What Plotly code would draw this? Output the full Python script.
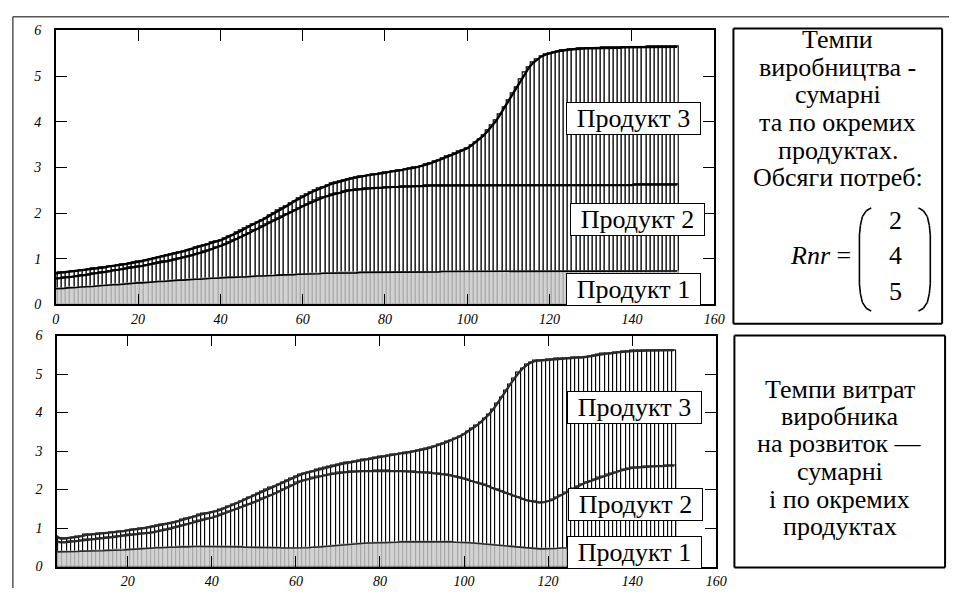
import plotly.graph_objects as go

W, H = 960, 596

# ---------------- data ----------------
# upper panel: production rates, cumulative levels per bar
x_top = list(range(0, 152))
p1_top = [0.34, 0.34, 0.35, 0.36, 0.36, 0.37, 0.38, 0.38, 0.39, 0.39, 0.40,
          0.41, 0.41, 0.42, 0.43, 0.43, 0.44, 0.45, 0.45, 0.46, 0.47,
          0.47, 0.48, 0.49, 0.49, 0.50, 0.50, 0.51, 0.52, 0.52, 0.53,
          0.53, 0.54, 0.54, 0.55, 0.55, 0.56, 0.56, 0.57, 0.57, 0.58,
          0.58, 0.59, 0.59, 0.60, 0.60, 0.60, 0.61, 0.61, 0.62, 0.62,
          0.62, 0.63, 0.63, 0.64, 0.64, 0.64, 0.65, 0.65, 0.66, 0.66,
          0.66, 0.67, 0.67, 0.67, 0.68, 0.68, 0.68, 0.68, 0.69, 0.69,
          0.69, 0.69, 0.69, 0.70, 0.70, 0.70, 0.70, 0.70, 0.70, 0.70,
          0.70, 0.70, 0.71, 0.71, 0.71, 0.71, 0.71, 0.71, 0.71, 0.71,
          0.71, 0.71, 0.71, 0.72, 0.72, 0.72, 0.72, 0.72, 0.72, 0.72,
          0.72, 0.72, 0.72, 0.72, 0.72, 0.73, 0.73, 0.73, 0.73, 0.73,
          0.73, 0.73, 0.73, 0.73, 0.73, 0.73, 0.73, 0.73, 0.73, 0.73,
          0.73, 0.73, 0.73, 0.73, 0.73, 0.73, 0.73, 0.73, 0.73, 0.73,
          0.73, 0.73, 0.73, 0.73, 0.73, 0.73, 0.73, 0.73, 0.73, 0.73,
          0.73, 0.73, 0.73, 0.73, 0.73, 0.73, 0.73, 0.73, 0.73, 0.73,
          0.73]
p12_top = [0.56, 0.57, 0.58, 0.59, 0.60, 0.62, 0.63, 0.64, 0.65, 0.67, 0.68,
           0.69, 0.71, 0.72, 0.74, 0.75, 0.77, 0.78, 0.80, 0.81, 0.83,
           0.84, 0.86, 0.88, 0.89, 0.91, 0.93, 0.94, 0.96, 0.98, 1.00,
           1.02, 1.05, 1.07, 1.10, 1.12, 1.15, 1.18, 1.21, 1.24, 1.27,
           1.31, 1.35, 1.39, 1.43, 1.47, 1.52, 1.56, 1.61, 1.65, 1.70,
           1.74, 1.79, 1.83, 1.88, 1.92, 1.97, 2.01, 2.06, 2.10, 2.15,
           2.19, 2.23, 2.27, 2.31, 2.34, 2.37, 2.40, 2.42, 2.44, 2.47,
           2.49, 2.50, 2.51, 2.52, 2.53, 2.54, 2.54, 2.55, 2.55, 2.56,
           2.56, 2.57, 2.57, 2.58, 2.58, 2.58, 2.59, 2.59, 2.59, 2.60,
           2.60, 2.60, 2.60, 2.60, 2.60, 2.60, 2.60, 2.60, 2.60, 2.60,
           2.60, 2.60, 2.61, 2.61, 2.61, 2.61, 2.61, 2.61, 2.61, 2.61,
           2.61, 2.61, 2.61, 2.61, 2.61, 2.61, 2.61, 2.61, 2.61, 2.61,
           2.61, 2.61, 2.61, 2.61, 2.61, 2.61, 2.61, 2.61, 2.61, 2.61,
           2.61, 2.61, 2.61, 2.61, 2.61, 2.61, 2.61, 2.61, 2.61, 2.61,
           2.62, 2.62, 2.62, 2.62, 2.62, 2.62, 2.62, 2.62, 2.62, 2.62,
           2.62]
total_top = [0.68, 0.69, 0.70, 0.71, 0.72, 0.73, 0.74, 0.75, 0.76, 0.78, 0.79,
             0.80, 0.81, 0.83, 0.84, 0.85, 0.87, 0.88, 0.90, 0.91, 0.93,
             0.95, 0.97, 0.99, 1.01, 1.03, 1.05, 1.07, 1.10, 1.12, 1.14,
             1.16, 1.19, 1.21, 1.24, 1.27, 1.29, 1.32, 1.35, 1.37, 1.40,
             1.44, 1.48, 1.52, 1.57, 1.61, 1.66, 1.71, 1.75, 1.80, 1.84,
             1.89, 1.94, 2.00, 2.05, 2.10, 2.15, 2.20, 2.26, 2.31, 2.36,
             2.41, 2.45, 2.49, 2.53, 2.57, 2.61, 2.64, 2.66, 2.69, 2.72,
             2.74, 2.76, 2.78, 2.80, 2.81, 2.83, 2.84, 2.85, 2.87, 2.88,
             2.90, 2.91, 2.93, 2.94, 2.96, 2.97, 2.99, 3.01, 3.03, 3.06,
             3.09, 3.12, 3.16, 3.19, 3.23, 3.26, 3.30, 3.34, 3.38, 3.42,
             3.48, 3.55, 3.62, 3.70, 3.80, 3.91, 4.02, 4.16, 4.31, 4.46,
             4.61, 4.76, 4.92, 5.07, 5.19, 5.29, 5.37, 5.43, 5.47, 5.50,
             5.52, 5.54, 5.56, 5.57, 5.58, 5.59, 5.60, 5.60, 5.61, 5.61,
             5.61, 5.61, 5.62, 5.62, 5.62, 5.62, 5.62, 5.63, 5.63, 5.63,
             5.63, 5.63, 5.63, 5.64, 5.64, 5.64, 5.64, 5.64, 5.64, 5.64,
             5.64]

# lower panel: producer's development spending, cumulative levels per bar
x_bot = list(range(3, 151))
p1_bot = [0.38, 0.38, 0.38, 0.39, 0.39, 0.39, 0.40, 0.40,
          0.40, 0.41, 0.41, 0.41, 0.42, 0.42, 0.43, 0.43, 0.43, 0.44,
          0.45, 0.45, 0.46, 0.47, 0.47, 0.48, 0.49, 0.49, 0.50, 0.50,
          0.50, 0.51, 0.51, 0.51, 0.52, 0.52, 0.52, 0.52, 0.52, 0.52,
          0.52, 0.52, 0.52, 0.51, 0.51, 0.51, 0.51, 0.50, 0.50, 0.50,
          0.50, 0.50, 0.49, 0.49, 0.49, 0.49, 0.48, 0.48, 0.48, 0.48,
          0.48, 0.49, 0.49, 0.50, 0.50, 0.51, 0.52, 0.53, 0.54, 0.55,
          0.56, 0.57, 0.58, 0.59, 0.60, 0.60, 0.61, 0.61, 0.62, 0.62,
          0.62, 0.62, 0.63, 0.63, 0.64, 0.64, 0.65, 0.65, 0.65, 0.65,
          0.65, 0.65, 0.65, 0.65, 0.64, 0.64, 0.64, 0.63, 0.63, 0.62,
          0.62, 0.61, 0.60, 0.59, 0.58, 0.57, 0.56, 0.55, 0.54, 0.53,
          0.52, 0.51, 0.50, 0.49, 0.48, 0.47, 0.47, 0.46, 0.46, 0.46,
          0.47, 0.47, 0.48, 0.48, 0.49, 0.49, 0.50, 0.50, 0.51, 0.51,
          0.52, 0.52, 0.52, 0.53, 0.53, 0.53, 0.54, 0.54, 0.54, 0.55,
          0.55, 0.55, 0.55, 0.56, 0.56, 0.56, 0.56, 0.56, 0.57, 0.57]
p12_bot = [0.65, 0.63, 0.63, 0.64, 0.65, 0.66, 0.67, 0.69,
           0.70, 0.71, 0.72, 0.74, 0.75, 0.76, 0.77, 0.79, 0.80, 0.82,
           0.83, 0.84, 0.85, 0.86, 0.87, 0.89, 0.91, 0.93, 0.95, 0.98,
           1.01, 1.04, 1.07, 1.10, 1.13, 1.16, 1.19, 1.21, 1.24, 1.26,
           1.30, 1.34, 1.38, 1.42, 1.46, 1.49, 1.53, 1.58, 1.62, 1.67,
           1.71, 1.76, 1.80, 1.85, 1.90, 1.95, 2.00, 2.05, 2.11, 2.17,
           2.21, 2.24, 2.27, 2.30, 2.33, 2.35, 2.37, 2.39, 2.41, 2.43,
           2.44, 2.45, 2.46, 2.47, 2.47, 2.48, 2.48, 2.48, 2.49, 2.49,
           2.49, 2.49, 2.48, 2.48, 2.48, 2.47, 2.47, 2.46, 2.45, 2.45,
           2.44, 2.43, 2.42, 2.41, 2.40, 2.38, 2.36, 2.34, 2.31, 2.28,
           2.25, 2.22, 2.19, 2.16, 2.12, 2.08, 2.03, 1.99, 1.95, 1.90,
           1.86, 1.82, 1.78, 1.75, 1.72, 1.70, 1.68, 1.66, 1.67, 1.70,
           1.73, 1.79, 1.85, 1.91, 1.97, 2.03, 2.08, 2.13, 2.18, 2.22,
           2.26, 2.30, 2.34, 2.38, 2.42, 2.45, 2.48, 2.51, 2.54, 2.56,
           2.57, 2.58, 2.59, 2.60, 2.60, 2.61, 2.61, 2.62, 2.62, 2.62]
total_bot = [0.78, 0.73, 0.73, 0.74, 0.75, 0.77, 0.79, 0.82,
             0.83, 0.84, 0.85, 0.86, 0.87, 0.88, 0.89, 0.91, 0.92, 0.94,
             0.95, 0.97, 0.98, 1.00, 1.02, 1.04, 1.06, 1.08, 1.10, 1.12,
             1.15, 1.18, 1.21, 1.24, 1.28, 1.31, 1.35, 1.37, 1.39, 1.41,
             1.44, 1.47, 1.51, 1.55, 1.60, 1.65, 1.70, 1.75, 1.80, 1.85,
             1.89, 1.94, 1.99, 2.04, 2.09, 2.14, 2.19, 2.24, 2.29, 2.34,
             2.38, 2.42, 2.45, 2.48, 2.51, 2.54, 2.57, 2.60, 2.63, 2.65,
             2.67, 2.69, 2.71, 2.73, 2.75, 2.77, 2.79, 2.81, 2.83, 2.85,
             2.87, 2.89, 2.90, 2.92, 2.94, 2.95, 2.97, 2.99, 3.01, 3.03,
             3.06, 3.09, 3.12, 3.16, 3.20, 3.24, 3.28, 3.33, 3.38, 3.44,
             3.51, 3.58, 3.66, 3.75, 3.85, 3.96, 4.09, 4.24, 4.40, 4.57,
             4.73, 4.89, 5.03, 5.15, 5.24, 5.30, 5.34, 5.35, 5.36, 5.37,
             5.38, 5.39, 5.40, 5.41, 5.41, 5.42, 5.43, 5.43, 5.44, 5.46,
             5.48, 5.50, 5.52, 5.53, 5.54, 5.56, 5.57, 5.58, 5.59, 5.60,
             5.60, 5.60, 5.61, 5.61, 5.61, 5.61, 5.62, 5.62, 5.62, 5.62]

for arr in (p1_top, p12_top, total_top):
    assert len(arr) == len(x_top), len(arr)
for arr in (p1_bot, p12_bot, total_bot):
    assert len(arr) == len(x_bot), len(arr)

product_labels = ["Продукт 1", "Продукт 2", "Продукт 3"]
x_ticks_top = [0, 20, 40, 60, 80, 100, 120, 140, 160]
x_ticks_bot = [20, 40, 60, 80, 100, 120, 140, 160]
y_ticks = [0, 1, 2, 3, 4, 5, 6]
rnr_values = ["2", "4", "5"]
box_top_lines = ["Темпи", "виробництва -", "сумарні", "та по окремих",
                 "продуктах.", "Обсяги потреб:"]
box_bot_lines = ["Темпи витрат", "виробника", "на розвиток —", "сумарні",
                 "і по окремих", "продуктах"]

# ---------------- helpers (layout only) ----------------
def px(x):
    return x / W

def py(y):
    return 1 - y / H

SERIF = "Liberation Serif"

def serif_span(text, italic=False):
    st = "font-family:Liberation Serif"
    if italic:
        st += ";font-style:italic"
    return f'<span style="{st}">{text}</span>'

fig = go.Figure()

def add_panel(xs, p1, p12, tot, xa, ya, line_color):
    bar_common = dict(xaxis=xa, yaxis=ya, width=1.0, showlegend=False)
    fig.add_trace(go.Bar(x=xs, y=tot, marker=dict(color="white",
                         line=dict(color="black", width=1.1)), **bar_common))
    fig.add_trace(go.Bar(x=xs, y=p12, marker=dict(color="white",
                         line=dict(color="black", width=1.1)), **bar_common))
    fig.add_trace(go.Bar(x=xs, y=p1, marker=dict(color="#d2d2d2",
                         line=dict(color="#a8a8a8", width=1)), **bar_common))
    for arr, wdt in ((p1, 1.6), (p12, 2.2), (tot, 2.4)):
        fig.add_trace(go.Scatter(x=xs, y=arr, mode="lines",
                                 line=dict(color=line_color, width=wdt),
                                 xaxis=xa, yaxis=ya, showlegend=False))

add_panel(x_top, p1_top, p12_top, total_top, "x", "y", "black")
add_panel(x_bot, p1_bot, p12_bot, total_bot, "x2", "y2", "#2a2a2a")

tickfont = dict(family=SERIF, size=14, style="italic")
axis_common = dict(showline=True, linecolor="black", linewidth=1.5,
                   mirror="ticks", ticks="inside", ticklen=11, tickwidth=1.3,
                   tickcolor="black", showgrid=False, zeroline=False,
                   tickfont=tickfont)

def tick_text(vals):
    return [serif_span(v, italic=True) for v in vals]

fig.update_layout(
    width=W, height=H,
    margin=dict(l=0, r=0, t=0, b=0),
    plot_bgcolor="white",
    barmode="overlay", bargap=0,
    showlegend=False,
    font=dict(family=SERIF, color="black"),
    xaxis=dict(domain=[px(52.6), px(721.5)], range=[0, 160],
               tickvals=x_ticks_top, ticktext=tick_text(x_ticks_top),
               anchor="y", ticklabelstandoff=1, **axis_common),
    yaxis=dict(domain=[py(305), py(24)], range=[0, 6], tickvals=y_ticks,
               ticktext=tick_text(y_ticks),
               anchor="x", ticklabelstandoff=10, **axis_common),
    xaxis2=dict(domain=[px(54), px(723.5)], range=[3.2, 160],
                tickvals=x_ticks_bot, ticktext=tick_text(x_ticks_bot),
                anchor="y2", ticklabelstandoff=1, **axis_common),
    yaxis2=dict(domain=[py(574), py(337)], range=[0, 6], tickvals=y_ticks,
                ticktext=tick_text(y_ticks),
                anchor="x2", ticklabelstandoff=10, **axis_common),
)

annotations = []

def label_box(text, cx, cy):
    annotations.append(dict(
        x=px(cx), y=py(cy), xref="paper", yref="paper",
        text=serif_span(text),
        showarrow=False, xanchor="center", yanchor="middle",
        font=dict(family=SERIF, size=26),
        bgcolor="white", bordercolor="black", borderwidth=1, borderpad=0,
        width=133, height=31))

# upper panel labels
label_box(product_labels[2], 639.5, 114.5)
label_box(product_labels[1], 644, 217.5)
label_box(product_labels[0], 639.5, 290)
# lower panel labels
label_box(product_labels[2], 640, 410.5)
label_box(product_labels[1], 642, 510)
label_box(product_labels[0], 640.5, 560)

def plain_text(text, cx, cy, anchor="center", size=26):
    annotations.append(dict(
        x=px(cx), y=py(cy), xref="paper", yref="paper", text=text,
        showarrow=False, xanchor=anchor, yanchor="middle",
        font=dict(family=SERIF, size=size)))

for t, yy in zip(box_top_lines, [33, 62, 90, 118, 147, 175]):
    plain_text(serif_span(t), 847, yy)
for t, yy in zip(box_bot_lines, [392, 420, 448, 477, 505, 533]):
    plain_text(serif_span(t), 849, yy)

plain_text(serif_span("Rnr", italic=True) + serif_span(" ="), 862, 255,
           anchor="right")
for t, yy in zip(rnr_values, [219, 255, 292]):
    plain_text(serif_span(t), 906, yy)

fig.update_layout(annotations=annotations)

shapes = []

def seg(x0, y0, x1, y1, color="black", width=1.6):
    shapes.append(dict(type="line", xref="paper", yref="paper",
                       x0=px(x0), y0=py(y0), x1=px(x1), y1=py(y1),
                       line=dict(color=color, width=width)))

# outer frame
seg(9, 10, 960, 10, "#555555", 1.5)
seg(9, 10, 9, 596, "#555555", 1.5)
# text boxes on the right
for (a, b, c, d) in ((741, 22, 953, 325), (742, 337, 956, 575)):
    seg(a, b, c, b, width=2)
    seg(c, b, c, d, width=2)
    seg(c, d, a, d, width=2)
    seg(a, d, a, b, width=2)

# matrix brackets as short segments
left_pts = [(881, 206), (876, 209), (872, 215), (870, 224), (869, 234),
            (869, 284), (870, 294), (872, 303), (876, 309), (881, 312)]
for i in range(len(left_pts) - 1):
    (a, b), (c, d) = left_pts[i], left_pts[i + 1]
    seg(a, b, c, d)
    seg(1810 - a, b, 1810 - c, d)

fig.update_layout(shapes=shapes)

fig.write_html("out.html")
